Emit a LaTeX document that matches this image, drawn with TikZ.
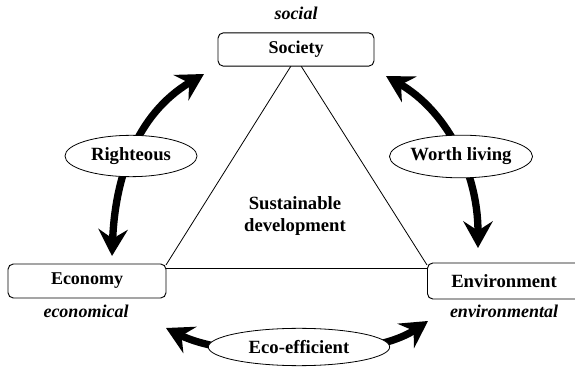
\documentclass[tikz,border=0pt]{standalone}
\usepackage{fontspec}
\newfontfamily\labelfont{Liberation Serif}
\usetikzlibrary{arrows.meta,shapes.geometric}
\tikzset{
  pillar/.style={draw, rounded corners=4pt, line width=0.7pt, fill=white,
    font=\labelfont\fontsize{13.5}{16}\selectfont\bfseries, inner sep=0pt},
  aspect/.style={font=\labelfont\fontsize{13.5}{16}\selectfont\bfseries\itshape},
  quality/.style={draw, ellipse, line width=0.6pt, fill=white, inner sep=0pt,
    font=\labelfont\fontsize{14}{16}\selectfont\bfseries},
  bigtip/.tip={Stealth[length=20pt,width=22pt,inset=7pt]},
  link/.style={line width=5.5pt, bigtip-bigtip},
  edge/.style={line width=0.6pt},
}
\begin{document}
\begin{tikzpicture}[x=0.75pt,y=-0.75pt]
  \useasboundingbox (0,0) rectangle (575,370);
  \clip (0,0) rectangle (575,370);

  % triangle of the three pillars
  \coordinate (apex) at (296,58);
  \coordinate (left) at (166,265);
  \coordinate (right) at (427,265);
  \coordinate (baseL) at (166,268);
  \coordinate (baseR) at (427,268);
  \draw[edge] (left) -- (apex) -- (right);
  \draw[edge] (baseL) -- (baseR);

  % pillars
  \node[pillar, minimum width=117pt, minimum height=25pt] (soc) at (296,49.5) {Society};
  \node[pillar, minimum width=118.5pt, minimum height=25.5pt] (eco) at (87,281) {Economy};
  \node[pillar, minimum width=120pt, minimum height=27pt, anchor=west] (env) at (427,281) {};
  \node[font=\labelfont\fontsize{14}{16}\selectfont\bfseries] (envt) at (504,281) {Environment};

  \node[aspect] (socl) at (296,13) {social};
  \node[aspect] (ecol) at (86,311) {economical};
  \node[aspect] (envl) at (504,311) {environmental};

  \node[font=\labelfont\fontsize{14}{17}\selectfont\bfseries, align=center] (sd) at (295,216)
    {Sustainable\\development};

  % tips of the double arrows
  \coordinate (rT) at (204,74);
  \coordinate (rB) at (112,256);
  \coordinate (wT) at (386,76);
  \coordinate (wB) at (478,248);
  \coordinate (eL) at (166,328);
  \coordinate (eR) at (428,321);

  \draw[link] (rB) .. controls (115,180) and (135,115) .. (rT);
  \draw[link] (wT) .. controls (445,110) and (478,170) .. (wB);
  \draw[link] (eL) .. controls (230,360) and (370,360) .. (eR);

  % relations between pillars
  \node[quality, minimum width=99pt, minimum height=31pt] (rig) at (131,156) {Righteous};
  \node[quality, minimum width=99pt, minimum height=32pt] (wor) at (461,156.5) {Worth living};
  \node[quality, minimum width=136pt, minimum height=28pt] (eff) at (299,347) {Eco-efficient};
\end{tikzpicture}
\end{document}
